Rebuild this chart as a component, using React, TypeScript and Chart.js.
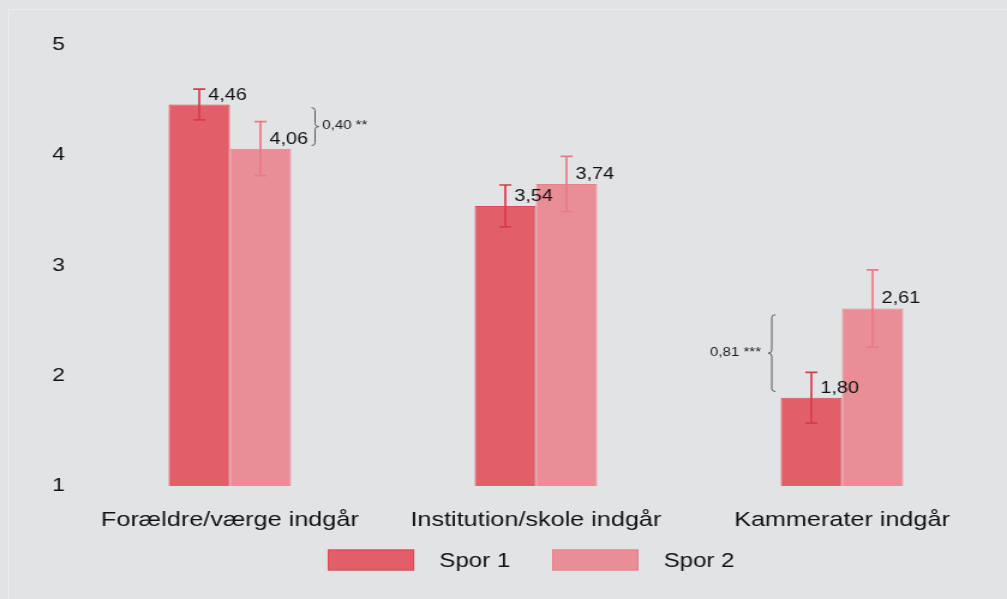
import React, { useEffect, useRef } from "react";
import { Chart, registerables } from "chart.js";

Chart.register(...registerables);

const categories = ["Forældre/værge indgår", "Institution/skole indgår", "Kammerater indgår"];
const seriesNames = ["Spor 1", "Spor 2"];
const spor1Values = [4.46, 3.54, 1.8];
const spor2Values = [4.06, 3.74, 2.61];
const spor1Errors = [0.14, 0.19, 0.23];
const spor2Errors = [0.245, 0.25, 0.35];
const diffLabels = ["0,40 **", "", "0,81 ***"];
const yTicks = [1, 2, 3, 4, 5];

const SX = 1.2;
const W = 839;
const H = 599;

const fillColors = ["#e25f69", "#e98e96"];
const borderColors = ["#db4a56", "#e6808a"];
const errColors = ["#d83c4b", "#ea7a86"];
const TEXT = "#111111";
const FONT = "Arial, 'Liberation Sans', sans-serif";

const fmt = (v: number) => v.toFixed(2).replace(".", ",");

const overlayPlugin = {
  id: "overlay",
  afterDatasetsDraw(chart: any) {
    const ctx = chart.ctx;
    const yScale = chart.scales.y;
    const errs = [spor1Errors, spor2Errors];
    ctx.save();
    // error bars and value labels
    for (let d = 0; d < 2; d++) {
      const meta = chart.getDatasetMeta(d);
      const vals = chart.data.datasets[d].data as number[];
      meta.data.forEach((bar: any, i: number) => {
        const x = bar.x;
        const v = vals[i];
        const e = errs[d][i];
        const yTop = yScale.getPixelForValue(v + e);
        const yBot = yScale.getPixelForValue(v - e);
        ctx.strokeStyle = errColors[d];
        ctx.lineWidth = 1.7;
        ctx.beginPath();
        ctx.moveTo(x, yTop);
        ctx.lineTo(x, yBot);
        ctx.moveTo(x - 5, yTop);
        ctx.lineTo(x + 5, yTop);
        ctx.moveTo(x - 5, yBot);
        ctx.lineTo(x + 5, yBot);
        ctx.stroke();
        ctx.fillStyle = TEXT;
        ctx.font = `16.5px ${FONT}`;
        ctx.textAlign = "left";
        ctx.textBaseline = "alphabetic";
        ctx.fillText(fmt(v), x + 7.5, bar.y - 5);
      });
    }
    // difference brackets
    const m1 = chart.getDatasetMeta(0);
    const m2 = chart.getDatasetMeta(1);
    diffLabels.forEach((lab, i) => {
      if (!lab) return;
      const b1 = m1.data[i];
      const b2 = m2.data[i];
      const yHi = Math.min(b1.y, b2.y);
      const yLo = Math.max(b1.y, b2.y);
      const inset = (yLo - yHi) * 0.07;
      const y1 = yHi + inset;
      const y2 = yLo - inset;
      const ym = (y1 + y2) / 2;
      const right = spor2Values[i] < spor1Values[i];
      const dir = right ? 1 : -1;
      const x0 = right ? b2.x + b2.width / 2 + 20 : b1.x - b1.width / 2 - 7.5;
      const r = 3;
      ctx.strokeStyle = "#5a5a5a";
      ctx.lineWidth = 1;
      ctx.beginPath();
      ctx.moveTo(x0 - dir * r, y1);
      ctx.quadraticCurveTo(x0, y1, x0, y1 + r);
      ctx.lineTo(x0, ym - r);
      ctx.quadraticCurveTo(x0, ym, x0 + dir * r, ym);
      ctx.quadraticCurveTo(x0, ym, x0, ym + r);
      ctx.lineTo(x0, y2 - r);
      ctx.quadraticCurveTo(x0, y2, x0 - dir * r, y2);
      ctx.stroke();
      ctx.fillStyle = "#222";
      ctx.font = `12.5px ${FONT}`;
      ctx.textBaseline = "middle";
      ctx.textAlign = right ? "left" : "right";
      ctx.fillText(lab, x0 + dir * (right ? 6 : 9), ym - 1);
    });
    // legend
    const area = chart.chartArea;
    ctx.font = `20px ${FONT}`;
    const boxW = 72;
    const gap = 21;
    const itemGap = 35;
    const widths = seriesNames.map((n) => ctx.measureText(n).width);
    const total = widths.reduce((a, w) => a + boxW + gap + w, 0) + itemGap * (seriesNames.length - 1);
    let x = (area.left + area.right) / 2 - total / 2 - 4;
    const ly = 560;
    seriesNames.forEach((n, k) => {
      ctx.fillStyle = fillColors[k];
      ctx.fillRect(x, ly - 10.5, boxW, 21);
      ctx.strokeStyle = borderColors[k];
      ctx.lineWidth = 1;
      ctx.strokeRect(x + 0.5, ly - 10, boxW - 1, 20);
      ctx.fillStyle = TEXT;
      ctx.textAlign = "left";
      ctx.textBaseline = "middle";
      ctx.fillText(n, x + boxW + gap, ly + 1);
      x += boxW + gap + widths[k] + itemGap;
    });
    ctx.restore();
  },
};

export default function App() {
  const ref = useRef<HTMLCanvasElement>(null);
  useEffect(() => {
    document.body.style.margin = "0";
    document.body.style.background = "#e2e3e5";
    const chart = new Chart(ref.current as HTMLCanvasElement, {
      type: "bar",
      data: {
        labels: categories,
        datasets: [
          {
            label: seriesNames[0],
            data: spor1Values,
            backgroundColor: fillColors[0],
            borderColor: borderColors[0],
            borderWidth: 1,
            categoryPercentage: 0.4,
            barPercentage: 1.0,
          },
          {
            label: seriesNames[1],
            data: spor2Values,
            backgroundColor: fillColors[1],
            borderColor: borderColors[1],
            borderWidth: 1,
            categoryPercentage: 0.4,
            barPercentage: 1.0,
          },
        ],
      },
      options: {
        responsive: false,
        animation: false,
        devicePixelRatio: 1,
        layout: { padding: { top: 45, right: 10, left: 0, bottom: 0 } },
        plugins: { legend: { display: false }, tooltip: { enabled: false } },
        scales: {
          x: {
            grid: { display: false, drawTicks: false },
            border: { display: false },
            ticks: { color: TEXT, font: { size: 21, family: FONT }, padding: 22 },
            afterFit: (s: any) => {
              s.height = 113;
            },
          },
          y: {
            min: 1,
            max: 5,
            grid: { display: false, drawTicks: false },
            border: { display: false },
            afterBuildTicks: (s: any) => {
              s.ticks = yTicks.map((v) => ({ value: v }));
            },
            ticks: {
              color: TEXT,
              font: { size: 19, family: FONT },
              padding: 10,
              callback: (v: any) => String(v),
            },
            afterFit: (s: any) => {
              s.width = 64;
            },
          },
        },
      },
      plugins: [overlayPlugin],
    });
    return () => chart.destroy();
  }, []);
  return (
    <div style={{ position: "fixed", left: 0, top: 0, width: 1007, height: 599, background: "#e2e3e5", overflow: "hidden" }}>
      <div
        style={{
          position: "absolute",
          left: 8,
          top: 9,
          right: 0,
          bottom: 0,
          borderTop: "1px solid #ebecee",
          borderLeft: "1px solid #ebecee",
        }}
      />
      <div style={{ position: "absolute", left: 0, top: 0, width: W, height: H, transform: `scaleX(${1007 / W})`, transformOrigin: "0 0" }}>
        <canvas ref={ref} width={W} height={H} style={{ width: W, height: H, display: "block" }} />
      </div>
    </div>
  );
}
